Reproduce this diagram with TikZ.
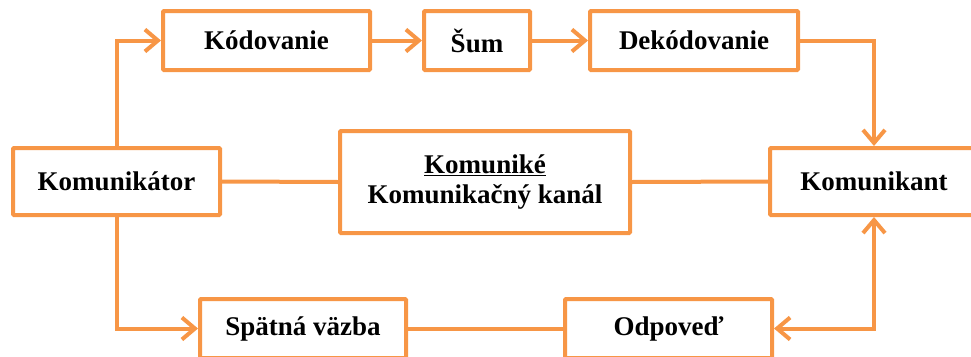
\documentclass[tikz,border=0pt]{standalone}
\usepackage{fontspec}
\setmainfont{Liberation Serif}
\usetikzlibrary{arrows.meta}
\definecolor{borange}{HTML}{F79646}
\tikzset{
  box/.style={draw=borange, line width=4pt, rounded corners=1pt, fill=white,
    inner sep=0pt, minimum height=59pt, font=\fontsize{27}{32}\selectfont\bfseries},
  conn/.style={draw=borange, line width=4pt},
  arr/.style={conn, -{Straight Barb[length=13pt,width=22pt,line width=4pt]}},
  darr/.style={conn, {Straight Barb[length=13pt,width=22pt,line width=4pt]}-{Straight Barb[length=13pt,width=22pt,line width=4pt]}}
}
\begin{document}
\begin{tikzpicture}[x=1pt,y=-1pt]
\useasboundingbox (0,0) rectangle (971,356);
\clip (0,0) rectangle (971,356);
\node[box, minimum width=207pt] (kod) at (266.5,40.5) {Kódovanie};
\node[box, minimum width=106pt] (sum) at (477,40.5) {Šum};
\node[box, minimum width=208pt] (dek) at (694,40.5) {Dekódovanie};
\node[box, minimum width=207pt, minimum height=67pt] (kom) at (116.5,181.5) {Komunikátor};
\node[box, minimum width=290pt, minimum height=102pt, align=center] (kan) at (485,182)
  {\underline{Komuniké}\\[-2pt]Komunikačný kanál};
\node[box, minimum width=208pt, minimum height=67pt] (kant) at (874,181.5) {Komunikant};
\node[box, minimum width=206pt] (spat) at (303,328.5) {Spätná väzba};
\node[box, minimum width=207pt] (odp) at (668.5,328.5) {Odpoveď};
\draw[arr] (kom.north) |- (kod.west);
\draw[arr] (kod.east) -- (sum.west);
\draw[arr] (sum.east) -- (dek.west);
\draw[arr] (dek.east) -| (kant.north);
\draw[conn] (kom.east) -- (kan.west);
\draw[conn] (kan.east) -- (kant.west);
\draw[arr] (kom.south) |- (spat.west);
\draw[conn] (spat.east) -- (odp.west);
\draw[darr] (odp.east) -| (kant.south);
\end{tikzpicture}
\end{document}
